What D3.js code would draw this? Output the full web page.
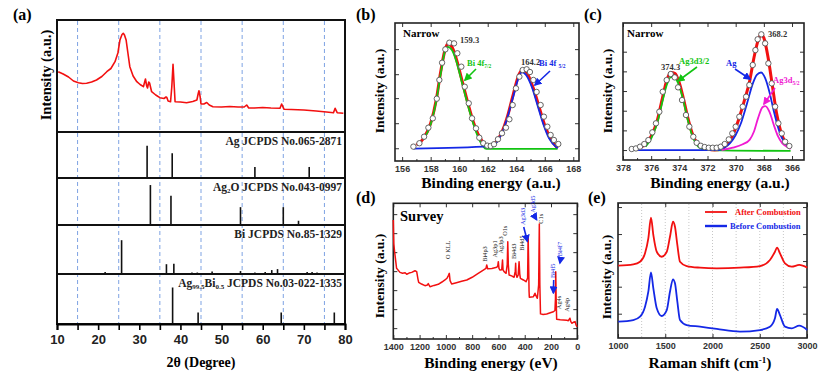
<!DOCTYPE html>
<html>
<head>
<meta charset="utf-8">
<script src="https://cdn.jsdelivr.net/npm/d3@7"></script>
<style>
body { margin: 0; background: #fff; }
</style>
</head>
<body>
<svg id="fig" width="831" height="388"></svg>
<script>
// ---------- (a) XRD pattern ----------
const xrdTheta = [10.3, 11.5, 12.8, 14.0, 15.2, 16.2, 17.2, 18.4, 19.6, 20.9, 22.1, 23.1, 24.1, 24.8, 25.3, 25.8, 26.1, 26.4, 26.8, 27.2, 27.7, 28.5, 29.4, 30.2, 31.0, 31.5, 31.8, 32.0, 32.3, 32.5, 33.0, 34.0, 35.0, 36.0, 36.5, 36.7, 37.0, 37.6, 37.9, 38.2, 38.5, 38.7, 40.0, 41.5, 43.0, 44.0, 44.3, 44.5, 44.8, 45.0, 45.7, 46.4, 47.0, 47.9, 50.0, 52.0, 54.0, 55.5, 56.1, 56.6, 58.0, 60.0, 62.0, 64.2, 64.6, 65.2, 67.0, 70.0, 73.0, 75.5, 77.2, 77.6, 78.1, 79.6]
const xrdInt = [60.3, 58, 55, 51, 49.3, 48.5, 48.7, 50, 52, 55.5, 60.3, 63.5, 70.3, 79, 92, 97.5, 98.7, 97, 92, 80, 65.3, 56, 50.3, 47.5, 45.3, 53, 46, 44, 50, 49, 40.3, 37, 34.3, 33.5, 35, 34.5, 31, 30.3, 45, 67.7, 45, 30.3, 30, 29.3, 30.5, 32, 38, 41.3, 35, 28, 28, 29.5, 27, 25.3, 25, 25.5, 25, 25, 27, 24, 24, 24.5, 24, 23.7, 28, 22.7, 22.5, 22, 21, 20, 19.3, 23.7, 19.3, 18.7]
const dashTheta = [15, 25, 35, 45, 55, 65, 75]

const agPos = [31.9, 38.0, 58.1, 71.3]
const agH = [70, 54, 24, 24]
const ag2oPos = [32.7, 37.7, 54.6, 65.0, 68.7]
const ag2oH = [85, 62, 38, 38, 9]
const biPos = [21.7, 25.7, 36.6, 38.4, 42.8, 44.1, 47.7, 54.6, 58.1, 60.6, 62.2, 63.6, 65.9, 70.8, 72.0, 73.2, 75.2]
const biH = [4, 69, 20, 21, 3, 3, 5, 6, 3, 4, 8, 10, 2, 4, 4, 3, 2]
const agbiPos = [38.1, 44.3, 64.5, 77.4]
const agbiH = [73, 23, 23, 23]

// ---------- (b) Bi 4f ----------
const bCircBE = [156.79, 157.21, 157.54, 157.84, 158.15, 158.43, 158.61, 158.80, 159.03, 159.31, 159.64, 159.87, 160.15, 160.39, 160.67, 160.90, 161.18, 161.41, 161.69, 161.97, 162.21, 162.44, 162.72, 163.00, 163.28, 163.52, 163.75, 163.98, 164.22, 164.45, 164.73, 164.96, 165.20, 165.43, 165.71, 165.94, 166.18, 166.41, 166.64, 166.95]
const bCircI = [0.015, 0.046, 0.106, 0.189, 0.275, 0.455, 0.627, 0.785, 0.908, 0.969, 0.963, 0.872, 0.749, 0.565, 0.413, 0.275, 0.183, 0.097, 0.046, 0.024, 0.021, 0.037, 0.083, 0.138, 0.189, 0.266, 0.397, 0.550, 0.657, 0.718, 0.725, 0.700, 0.627, 0.517, 0.397, 0.290, 0.198, 0.122, 0.076, 0.039]
const bFitBE = [157.0, 157.5, 158.0, 158.4, 158.7, 159.0, 159.2, 159.5, 159.8, 160.2, 160.6, 161.0, 161.4, 161.8, 162.2, 162.6, 163.0, 163.4, 163.8, 164.2, 164.5, 164.8, 165.2, 165.6, 166.0, 166.4, 166.9]
const bFitI = [0.03, 0.09, 0.23, 0.45, 0.70, 0.90, 0.96, 0.93, 0.82, 0.62, 0.42, 0.24, 0.11, 0.04, 0.02, 0.06, 0.15, 0.30, 0.50, 0.68, 0.72, 0.68, 0.55, 0.38, 0.21, 0.09, 0.0]
const bGreenBE = [157.5, 158.0, 158.4, 158.7, 159.0, 159.2, 159.5, 159.8, 160.2, 160.6, 161.0, 161.4, 161.9, 166.9]
const bGreenI = [0.08, 0.22, 0.44, 0.68, 0.89, 0.93, 0.90, 0.80, 0.60, 0.40, 0.22, 0.08, -0.005, -0.005]
const bBlueBE = [156.8, 162.2, 162.6, 163.0, 163.4, 163.8, 164.2, 164.4, 164.7, 165.1, 165.5, 165.9, 166.3, 166.9]
const bBlueI = [-0.003, 0.02, 0.05, 0.14, 0.29, 0.48, 0.66, 0.70, 0.67, 0.56, 0.39, 0.22, 0.09, 0.0]
const bYTicks = [0, 0.23, 0.46, 0.68, 0.91]

// ---------- (c) Ag 3d ----------
const cCircBE = [377.38, 377.08, 376.79, 376.49, 376.20, 375.92, 375.66, 375.42, 375.18, 374.90, 374.61, 374.33, 374.09, 373.81, 373.53, 373.29, 373.01, 372.77, 372.48, 372.20, 371.91, 371.63, 371.35, 371.06, 370.78, 370.49, 370.24, 370.00, 369.74, 369.50, 369.26, 369.03, 368.79, 368.60, 368.44, 368.18, 367.91, 367.68, 367.44, 367.20, 366.97, 366.73, 366.49, 366.19]
const cCircI = [0.009, 0.014, 0.029, 0.052, 0.086, 0.153, 0.231, 0.331, 0.504, 0.605, 0.657, 0.628, 0.542, 0.432, 0.303, 0.202, 0.115, 0.063, 0.037, 0.026, 0.020, 0.020, 0.020, 0.029, 0.052, 0.092, 0.144, 0.202, 0.288, 0.375, 0.461, 0.562, 0.735, 0.864, 0.957, 1.0, 0.922, 0.749, 0.576, 0.375, 0.231, 0.144, 0.072, 0.035]
const cFitBE = [376.8, 376.4, 376.0, 375.6, 375.2, 374.9, 374.6, 374.3, 374.0, 373.7, 373.4, 373.1, 372.8, 372.4, 372.0, 371.5, 371.0, 370.6, 370.2, 369.8, 369.4, 369.0, 368.7, 368.4, 368.2, 368.0, 367.7, 367.4, 367.1, 366.8, 366.5, 366.1]
const cFitI = [0.02, 0.05, 0.12, 0.24, 0.45, 0.60, 0.67, 0.66, 0.58, 0.44, 0.28, 0.15, 0.07, 0.03, 0.01, 0.0, 0.01, 0.05, 0.13, 0.26, 0.42, 0.60, 0.80, 0.95, 1.0, 0.97, 0.80, 0.56, 0.32, 0.16, 0.07, 0.02]
const cGreenBE = [376.4, 376.0, 375.6, 375.2, 374.9, 374.6, 374.3, 374.0, 373.7, 373.4, 373.1, 372.8, 372.4, 371.8, 366.1]
const cGreenI = [0.03, 0.10, 0.22, 0.42, 0.56, 0.63, 0.62, 0.55, 0.42, 0.26, 0.13, 0.05, 0.01, 0.0, -0.008]
const cBlueBE = [377.0, 371.2, 370.8, 370.4, 370.0, 369.6, 369.2, 368.8, 368.5, 368.2, 367.9, 367.6, 367.3, 367.0, 366.7, 366.4, 366.1]
const cBlueI = [0.0, 0.0, 0.02, 0.06, 0.13, 0.24, 0.40, 0.57, 0.65, 0.67, 0.62, 0.50, 0.34, 0.20, 0.10, 0.05, 0.02]
const cPinkBE = [371.0, 370.2, 369.5, 369.0, 368.7, 368.4, 368.1, 367.9, 367.6, 367.3, 367.0, 366.7, 366.4, 366.1]
const cPinkI = [0.0, 0.02, 0.05, 0.09, 0.16, 0.28, 0.37, 0.38, 0.33, 0.22, 0.12, 0.06, 0.03, 0.01]
const cYTicks = [0, 0.17, 0.34, 0.51, 0.68, 0.85]

// ---------- (d) survey ----------
const dBE = [1400, 1396, 1390, 1375, 1349, 1330, 1310, 1298, 1280, 1260, 1235, 1222, 1212, 1207, 1185, 1159, 1140, 1134, 1121, 1090, 1058, 1030, 1007, 990, 980, 974, 968, 956, 920, 880, 841, 800, 760, 715, 695, 689, 682, 650, 613, 605, 601, 596, 588, 575, 569, 565, 557, 542, 533, 529, 525, 519, 500, 481, 472, 469, 466, 459, 450, 443, 438, 433, 410, 390, 378, 374, 371, 367, 365, 350, 334, 322, 310, 304, 294, 289, 285, 280, 260, 233, 200, 182, 170, 166, 164, 161, 157, 130, 106, 80, 68, 56, 50, 42, 30, 17, 8, 1]
const dInt = [87.7, 70, 64.3, 52.1, 49.1, 48.5, 48.8, 47.7, 48.6, 49.1, 50.3, 49.6, 44, 41.8, 40.5, 39.3, 39.8, 40.8, 38.5, 39.5, 40.3, 42, 43.5, 45, 47, 48.4, 43, 40.5, 41.5, 42.5, 43.5, 45.5, 48, 50.8, 52, 54.5, 51.8, 52, 52.8, 54, 57, 52, 50.8, 51, 58.2, 51, 49.6, 48.4, 55, 71.7, 55, 47.2, 46.5, 45.5, 50, 55.8, 48, 45.5, 47, 57, 48, 44.7, 43.5, 42.2, 45, 76, 60, 35, 30.7, 31, 31.2, 33.7, 31, 30, 40, 84.7, 40, 18.5, 18, 18.4, 19.5, 20.1, 21, 30, 49.6, 30, 14.5, 14.2, 14, 13.8, 13.5, 15.3, 13, 11.6, 12.3, 12.8, 10, 9]
const dPeakNames = ["O KLL", "Bi4p3", "Ag3p1", "Ag3p3", "O1s", "Bi4d3", "Bi4d5", "Ag3d3", "Ag3d5", "C1s", "Bi4f5", "Bi4f7", "Ag4s", "Ag4p"]
const dPeakBE = [966, 690, 610, 566, 535, 468, 406, 400, 324, 258, 172, 118, 126, 62]
const dPeakI = [59, 57, 60, 63, 76, 59, 65, 84, 93, 85, 45, 61, 22, 20]
const dPeakBlue = [false, false, false, false, false, false, false, true, true, false, true, true, false, false]
const dYTicks = [8, 22, 36, 50, 64, 78, 92]

// ---------- (e) Raman ----------
const ramanShift = [1003, 1162, 1233, 1286, 1321, 1349, 1374, 1410, 1462, 1516, 1550, 1582, 1603, 1628, 1656, 1727, 1868, 2045, 2291, 2503, 2608, 2661, 2683, 2714, 2767, 2838, 2918, 3003]
const afterInt = [53.6, 54.6, 56.5, 62.7, 73.8, 89.1, 76.3, 63.9, 60.2, 63.9, 75, 86.1, 82.4, 68.9, 56.5, 53.3, 52.1, 51.6, 52.1, 53.3, 57.8, 63.9, 66.9, 62.7, 55.3, 52.8, 54.1, 52.1]
const beforeInt = [12.1, 13.3, 15.8, 23.2, 34.3, 48.6, 36.8, 22, 16.3, 20.7, 34.3, 43.5, 40.5, 26.9, 13.3, 9.6, 8.4, 6.7, 4.7, 5.9, 8.4, 14.6, 21.5, 17, 8.4, 7.2, 9.1, 5.9]
const ramanGrid = [1250, 1500, 1750, 2000, 2250, 2500, 2750]
const eYTicks = [18, 38, 57, 77, 97]

const RED = "#f21010", BLUE = "#1428e6", GREEN = "#12c412", PINK = "#f01ad2"
const SERIF = "'Liberation Serif', 'Times New Roman', 'DejaVu Serif', serif"
const SANS = "'Liberation Sans', Arial, sans-serif"
const svg = d3.select("#fig")

// arrow heads
const defs = svg.append("defs")
;[["ah-green", GREEN], ["ah-blue", BLUE], ["ah-pink", PINK]].forEach(m => {
  defs.append("marker").attr("id", m[0]).attr("viewBox", "0 0 10 10")
    .attr("refX", 8).attr("refY", 5).attr("markerWidth", 5).attr("markerHeight", 5)
    .attr("orient", "auto").append("path").attr("d", "M0,0L10,5L0,10z").attr("fill", m[1])
})

function zip(a, b) { return a.map((v, i) => [v, b[i]]) }

function panelLabel(t, x, y) {
  svg.append("text").attr("x", x).attr("y", y).attr("font-size", 16).text(t)
}

function yTitle(t, x, y, size) {
  svg.append("text").attr("transform", `translate(${x},${y}) rotate(-90)`)
    .attr("text-anchor", "middle").attr("font-size", size).text(t)
}

function drawLine(x, y, data, color, width, curve) {
  svg.append("path").datum(data)
    .attr("d", d3.line().x(d => x(d[0])).y(d => y(d[1])).curve(curve || d3.curveLinear))
    .attr("fill", "none").attr("stroke", color).attr("stroke-width", width)
    .attr("stroke-linejoin", "round")
}

// frame with inward ticks on four sides (panels b-e)
function smallFrame(x, y, major, minor, yTicks, fmt) {
  const [x0, x1] = x.range(), [y0, y1] = y.range()
  const strip = g => { g.select(".domain").remove(); g.selectAll("line").attr("stroke", "#333") }
  svg.append("g").attr("transform", `translate(0,${y0})`)
    .call(d3.axisBottom(x).tickValues(major).tickSize(-4).tickPadding(5).tickFormat(fmt || (d => d)))
    .call(strip).call(g => g.selectAll("text").attr("class", "tk").attr("font-size", 9).attr("fill", "#333"))
  svg.append("g").attr("transform", `translate(0,${y0})`)
    .call(d3.axisBottom(x).tickValues(minor).tickSize(-2).tickFormat("")).call(strip)
  svg.append("g").attr("transform", `translate(0,${y1})`)
    .call(d3.axisTop(x).tickValues(major).tickSize(-4).tickFormat("")).call(strip)
  svg.append("g").attr("transform", `translate(${Math.min(x0, x1)},0)`)
    .call(d3.axisLeft(y).tickValues(yTicks).tickSize(-4).tickFormat("")).call(strip)
  svg.append("g").attr("transform", `translate(${Math.max(x0, x1)},0)`)
    .call(d3.axisRight(y).tickValues(yTicks).tickSize(-4).tickFormat("")).call(strip)
  svg.append("rect").attr("x", Math.min(x0, x1)).attr("y", y1)
    .attr("width", Math.abs(x1 - x0)).attr("height", y0 - y1)
    .attr("fill", "none").attr("stroke", "#222").attr("stroke-width", 1.6)
}

function arrow(x1, y1, x2, y2, color, id) {
  svg.append("line").attr("x1", x1).attr("y1", y1).attr("x2", x2).attr("y2", y2)
    .attr("stroke", color).attr("stroke-width", 1.6).attr("marker-end", `url(#${id})`)
}

// ================= (a) =================
const aX = d3.scaleLinear().domain([10, 80]).range([57, 345])
const aY = d3.scaleLinear().domain([0, 112]).range([132, 20])

svg.selectAll(".vdash").data(dashTheta).enter().append("line")
  .attr("x1", d => aX(d)).attr("x2", d => aX(d)).attr("y1", 21).attr("y2", 323)
  .attr("stroke", "#7ea3e3").attr("stroke-width", 1).attr("stroke-dasharray", "4,3")

drawLine(aX, aY, zip(xrdTheta, xrdInt), RED, 1.6)

const refs = [
  { top: 132, bottom: 178, pos: agPos, h: agH, label: [["Ag JCPDS No.065-2871"]] },
  { top: 178, bottom: 225, pos: ag2oPos, h: ag2oH, label: [["Ag"], ["2", 1], ["O JCPDS No.043-0997"]] },
  { top: 225, bottom: 274, pos: biPos, h: biH, label: [["Bi JCPDS No.85-1329"]] },
  { top: 274, bottom: 324, pos: agbiPos, h: agbiH, label: [["Ag"], ["99.5", 1], ["Bi"], ["0.5", 1], [" JCPDS No.03-022-1335"]] }
]
refs.forEach(r => {
  const sy = d3.scaleLinear().domain([0, 100]).range([r.bottom, r.top])
  svg.append("g").selectAll("line").data(zip(r.pos, r.h)).enter().append("line")
    .attr("x1", d => aX(d[0])).attr("x2", d => aX(d[0]))
    .attr("y1", sy(0)).attr("y2", d => sy(d[1]))
    .attr("stroke", "#111").attr("stroke-width", 1.6)
  const t = svg.append("text").attr("x", 342).attr("y", r.top + 13)
    .attr("text-anchor", "end").attr("font-size", 11.5).attr("fill", "#222")
  r.label.forEach(p => {
    const s = t.append("tspan").text(p[0])
    if (p[1]) s.attr("font-size", 7).attr("dy", 2)
    else s.attr("dy", t.selectAll("tspan").size() > 1 ? -2 : 0)
  })
  svg.append("line").attr("x1", 57).attr("x2", 345).attr("y1", r.top).attr("y2", r.top)
    .attr("stroke", "#111").attr("stroke-width", 2)
})
svg.append("rect").attr("x", 57).attr("y", 20).attr("width", 288).attr("height", 304)
  .attr("fill", "none").attr("stroke", "#111").attr("stroke-width", 2)

svg.append("g").attr("transform", "translate(0,324)")
  .call(d3.axisBottom(aX).tickValues(d3.range(10, 81, 5)).tickSize(6).tickPadding(5)
    .tickFormat(d => d % 10 === 0 ? d : ""))
  .call(g => g.select(".domain").attr("stroke-width", 2))
  .call(g => g.selectAll("line").attr("stroke-width", 1.6))
  .call(g => g.selectAll("text").attr("class", "tk").attr("font-size", 13).attr("fill", "#222"))

panelLabel("(a)", 13, 20)
yTitle("Intensity (a.u.)", 51, 75, 14.5)
svg.append("text").attr("x", 201).attr("y", 367).attr("text-anchor", "middle")
  .attr("font-size", 14).text("2θ (Degree)")

// ================= (b) =================
const bX = d3.scaleLinear().domain([155.5, 168.4]).range([395, 579])
const bY = d3.scaleLinear().domain([-0.117, 1.15]).range([161, 23])
smallFrame(bX, bY, d3.range(156, 169, 2), d3.range(157, 168, 2), bYTicks)
drawLine(bX, bY, zip(bFitBE, bFitI), RED, 3, d3.curveMonotoneX)
drawLine(bX, bY, zip(bGreenBE, bGreenI), GREEN, 1.8, d3.curveMonotoneX)
drawLine(bX, bY, zip(bBlueBE, bBlueI), BLUE, 1.8, d3.curveMonotoneX)
svg.append("g").selectAll("circle").data(zip(bCircBE, bCircI)).enter().append("circle")
  .attr("cx", d => bX(d[0])).attr("cy", d => bY(d[1])).attr("r", 2.7)
  .attr("fill", "#fff").attr("stroke", "#555").attr("stroke-width", 0.9)

svg.append("text").attr("x", 403).attr("y", 37).attr("font-size", 11).text("Narrow")
svg.append("text").attr("x", 460).attr("y", 43).attr("font-size", 8.5).attr("fill", "#333").text("159.3")
svg.append("text").attr("x", 521).attr("y", 65).attr("font-size", 8.5).attr("fill", "#333").text("164.2")
const bg = svg.append("text").attr("x", 467).attr("y", 66).attr("font-size", 8.5).attr("fill", GREEN)
bg.append("tspan").text("Bi 4f")
bg.append("tspan").attr("font-size", 5.5).attr("dy", 2).text("7/2")
const bb = svg.append("text").attr("x", 539).attr("y", 66).attr("font-size", 8.5).attr("fill", BLUE)
bb.append("tspan").text("Bi 4f ")
bb.append("tspan").attr("font-size", 5.5).attr("dy", 2).text("5/2")
arrow(476, 69, 465, 80, GREEN, "ah-green")
arrow(550, 71, 535, 85, BLUE, "ah-blue")

panelLabel("(b)", 356, 20)
yTitle("Intensity (a.u.)", 384, 91, 13.5)
svg.append("text").attr("x", 491).attr("y", 188).attr("text-anchor", "middle")
  .attr("font-size", 15.5).text("Binding energy (a.u.)")

// ================= (c) =================
const cX = d3.scaleLinear().domain([378, 365.15]).range([623, 804])
const cY = d3.scaleLinear().domain([-0.086, 1.098]).range([160, 23])
smallFrame(cX, cY, d3.range(378, 365, -2), d3.range(377, 365, -2), cYTicks)
drawLine(cX, cY, zip(cFitBE, cFitI), RED, 3, d3.curveMonotoneX)
drawLine(cX, cY, zip(cGreenBE, cGreenI), GREEN, 1.8, d3.curveMonotoneX)
drawLine(cX, cY, zip(cBlueBE, cBlueI), BLUE, 1.8, d3.curveMonotoneX)
drawLine(cX, cY, zip(cPinkBE, cPinkI), PINK, 1.8, d3.curveMonotoneX)
svg.append("g").selectAll("circle").data(zip(cCircBE, cCircI)).enter().append("circle")
  .attr("cx", d => cX(d[0])).attr("cy", d => cY(d[1])).attr("r", 2.7)
  .attr("fill", "#fff").attr("stroke", "#555").attr("stroke-width", 0.9)

svg.append("text").attr("x", 627).attr("y", 37).attr("font-size", 11).text("Narrow")
svg.append("text").attr("x", 661).attr("y", 70).attr("font-size", 8.5).attr("fill", "#333").text("374.3")
svg.append("text").attr("x", 768).attr("y", 37).attr("font-size", 8.5).attr("fill", "#333").text("368.2")
svg.append("text").attr("x", 679).attr("y", 64).attr("font-size", 8.5).attr("fill", GREEN).text("Ag3d3/2")
svg.append("text").attr("x", 726).attr("y", 66).attr("font-size", 8.5).attr("fill", BLUE).text("Ag")
const cp = svg.append("text").attr("x", 773).attr("y", 83).attr("font-size", 8.5).attr("fill", PINK)
cp.append("tspan").text("Ag3d")
cp.append("tspan").attr("font-size", 5.5).attr("dy", 2).text("5/2")
arrow(697, 67, 678, 81, GREEN, "ah-green")
arrow(735, 69, 750, 79, BLUE, "ah-blue")
arrow(775, 88, 764, 104, PINK, "ah-pink")

panelLabel("(c)", 584, 20)
yTitle("Intensity (a.u.)", 612, 91, 13.5)
svg.append("text").attr("x", 720).attr("y", 188).attr("text-anchor", "middle")
  .attr("font-size", 15.5).text("Binding energy (a.u.)")

// ================= (d) =================
const dX = d3.scaleLinear().domain([1400, 0]).range([393.3, 577.3])
const dY = d3.scaleLinear().domain([0, 100]).range([339, 203.3])
smallFrame(dX, dY, d3.range(1400, -1, -200), d3.range(1300, 0, -200), dYTicks)
drawLine(dX, dY, zip(dBE, dInt), RED, 1.5)
dPeakNames.forEach((n, i) => {
  const px = dX(dPeakBE[i]), py = dY(dPeakI[i])
  svg.append("text").attr("transform", `translate(${px},${py}) rotate(-90)`)
    .attr("font-size", 6.3).attr("font-weight", "normal")
    .attr("fill", dPeakBlue[i] ? BLUE : "#222").text(n)
})
arrow(dX(400) - 1, dY(84) + 2, dX(380), dY(72), BLUE, "ah-blue")
arrow(dX(324) - 1, dY(93) + 2, dX(310), dY(88), BLUE, "ah-blue")
arrow(dX(172) - 1, dY(45) + 2, dX(182), dY(34), BLUE, "ah-blue")
arrow(dX(118) - 1, dY(61) + 2, dX(132), dY(56), BLUE, "ah-blue")
svg.append("text").attr("x", 400).attr("y", 221).attr("font-size", 14.5).text("Survey")

panelLabel("(d)", 356, 203)
yTitle("Intensity (a.u.)", 384, 276, 13.5)
svg.append("text").attr("x", 491).attr("y", 368).attr("text-anchor", "middle")
  .attr("font-size", 15.5).text("Binding energy (eV)")

// ================= (e) =================
const eX = d3.scaleLinear().domain([1000, 3000]).range([618, 807])
const eY = d3.scaleLinear().domain([0, 100]).range([338, 203])
svg.selectAll(".edot").data(ramanGrid).enter().append("line")
  .attr("x1", d => eX(d)).attr("x2", d => eX(d)).attr("y1", 204).attr("y2", 337)
  .attr("stroke", "#b8b8b8").attr("stroke-width", 0.8).attr("stroke-dasharray", "1,2")
smallFrame(eX, eY, d3.range(1000, 3001, 500), [], eYTicks)
drawLine(eX, eY, zip(ramanShift, afterInt), RED, 1.8, d3.curveMonotoneX)
drawLine(eX, eY, zip(ramanShift, beforeInt), BLUE, 1.8, d3.curveMonotoneX)

svg.append("line").attr("x1", 705).attr("x2", 727).attr("y1", 212).attr("y2", 212)
  .attr("stroke", RED).attr("stroke-width", 1.8)
svg.append("text").attr("x", 735).attr("y", 215).attr("font-size", 8.5).attr("fill", RED).text("After Combustion")
svg.append("line").attr("x1", 705).attr("x2", 727).attr("y1", 226).attr("y2", 226)
  .attr("stroke", BLUE).attr("stroke-width", 2.4)
svg.append("text").attr("x", 730).attr("y", 229).attr("font-size", 8.5).attr("fill", BLUE).text("Before Combustion")

panelLabel("(e)", 588, 203)
yTitle("Intensity (a.u.)", 611, 277, 13.5)
const et = svg.append("text").attr("x", 710).attr("y", 368).attr("text-anchor", "middle").attr("font-size", 15.5)
et.append("tspan").text("Raman shift (cm")
et.append("tspan").attr("font-size", 9).attr("dy", -5).text("-1")
et.append("tspan").attr("dy", 5).text(")")

// fonts: serif bold for titles and notes, sans bold for tick numbers
svg.selectAll("text").style("font-family", SERIF).style("font-weight", "bold")
svg.selectAll("text.tk").style("font-family", SANS)
svg.selectAll("text").filter(function () { return this.getAttribute("font-weight") === "normal" })
  .style("font-weight", "normal")
</script>
</body>
</html>
